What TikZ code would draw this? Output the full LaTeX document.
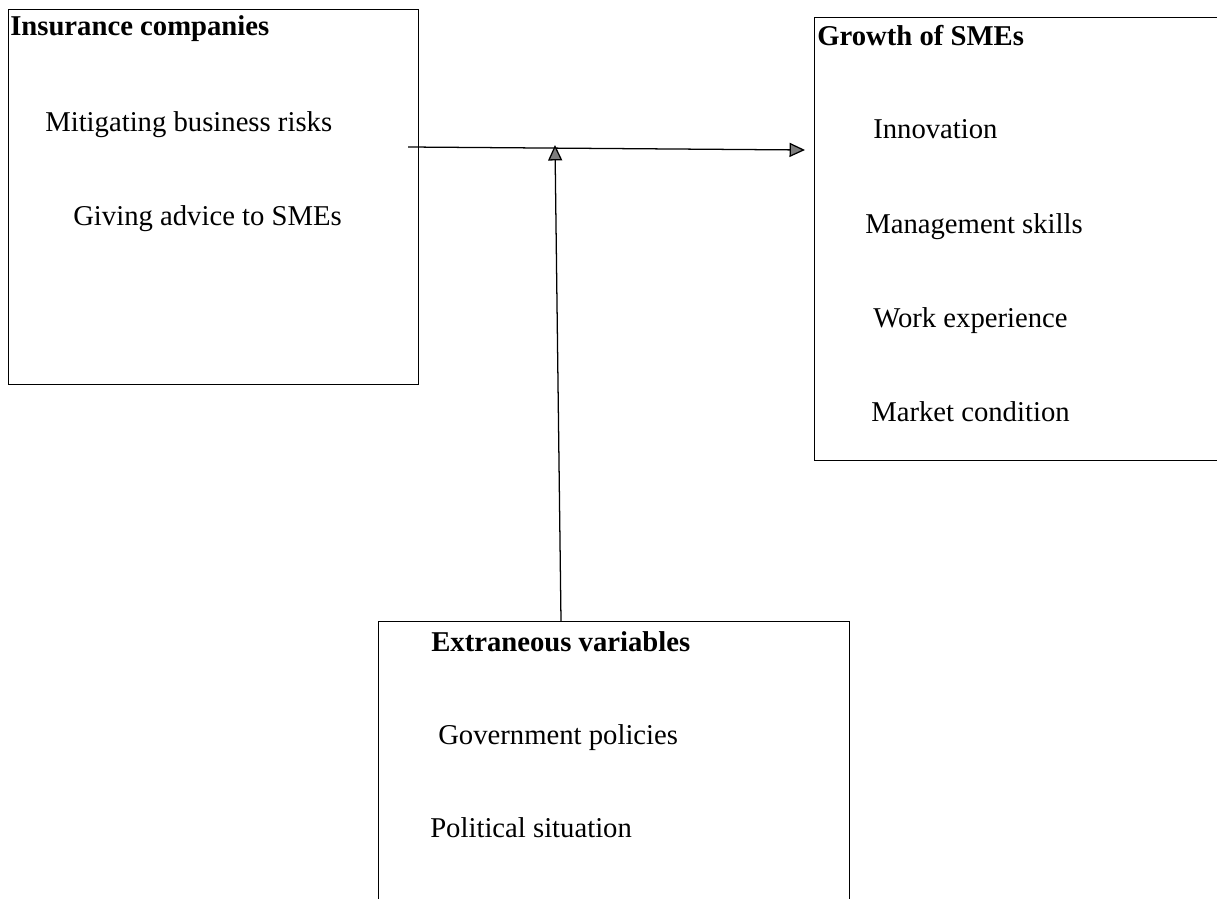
\documentclass[tikz,border=0pt]{standalone}
\usepackage{fontspec}
\setmainfont{Liberation Serif}
\usetikzlibrary{arrows.meta}

\begin{document}
\begin{tikzpicture}[x=0.025cm, y=-0.025cm,
	every node/.style={inner sep=0, font=\fontsize{20.4}{24}\selectfont},
	frame/.style={draw, line width=0.6pt},
	heading/.style={anchor=base west, font=\fontsize{20.4}{24}\selectfont\bfseries},
	entry/.style={anchor=base west},
	link/.style={line width=0.9pt, -{Triangle[length=11pt, width=10pt, fill=tipgray]}}]
	\definecolor{tipgray}{RGB}{125,125,125}

	\useasboundingbox (0,0) rectangle (1217,899);

	\draw[frame] (8,9) rectangle (418,384);
	\draw[frame] (814,17) rectangle (1230,460);
	\draw[frame] (378,621) rectangle (849,920);

	\node[heading] (insur) at (10,36) {Insurance companies};
	\node[entry] (risks) at (45,132) {Mitigating business risks};
	\node[entry] (advice) at (73,226) {Giving advice to SMEs};

	\node[heading] (growth) at (817,46) {Growth of SMEs};
	\node[entry] (innov) at (873,139) {Innovation};
	\node[entry] (skills) at (865,234) {Management skills};
	\node[entry] (exper) at (873,327) {Work experience};
	\node[entry] (market) at (871,421) {Market condition};

	\node[heading] (extra) at (431,651) {Extraneous variables};
	\node[entry] (policy) at (438,744) {Government policies};
	\node[entry] (polit) at (430,837) {Political situation};

	\coordinate (src) at (408,147);
	\coordinate (dst) at (805,150);
	\coordinate (foot) at (561,621);
	\coordinate (join) at (555,145);

	\draw[link] (src) -- (dst);
	\draw[link] (foot) -- (join);
\end{tikzpicture}
\end{document}
